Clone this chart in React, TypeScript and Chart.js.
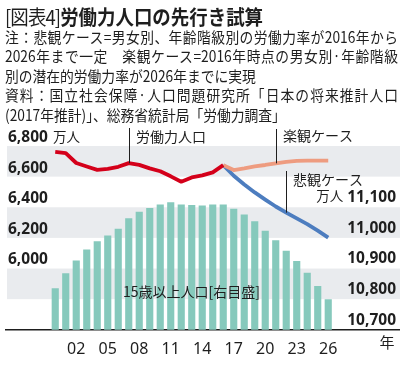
import React, { useEffect, useRef } from 'react';
import { Chart, registerables } from 'chart.js';

Chart.register(...registerables);

// ---------- data ----------
const barYears = [2000, 2001, 2002, 2003, 2004, 2005, 2006, 2007, 2008, 2009, 2010, 2011, 2012, 2013, 2014, 2015, 2016, 2017, 2018, 2019, 2020, 2021, 2022, 2023, 2024, 2025, 2026];
const population15Plus = [10836, 10885, 10926, 10962, 10989, 11008, 11030, 11064, 11085, 11098, 11109, 11116, 11109, 11107, 11106, 11109, 11109, 11095, 11076, 11054, 11023, 10992, 10958, 10925, 10886, 10843, 10800];

const laborYears = [2000, 2001, 2002, 2003, 2004, 2005, 2006, 2007, 2008, 2009, 2010, 2011, 2012, 2013, 2014, 2015, 2016];
const laborForce = [6762, 6754, 6689, 6666, 6644, 6651, 6664, 6688, 6677, 6654, 6635, 6602, 6567, 6595, 6608, 6628, 6675];

const projectionYears = [2016, 2017, 2018, 2019, 2020, 2021, 2022, 2023, 2024, 2025, 2026];
const optimisticCase = [6675, 6643, 6654, 6667, 6676, 6687, 6697, 6703, 6705, 6705, 6705];
const pessimisticCase = [6675, 6606, 6549, 6497, 6450, 6405, 6365, 6327, 6290, 6248, 6202];

const leftTicks = [6000, 6200, 6400, 6600, 6800];
const rightTicks = [10700, 10800, 10900, 11000, 11100];
const bandRanges = [[5800, 6000], [6200, 6400], [6600, 6800]];
const xTickYears = [2002, 2005, 2008, 2011, 2014, 2017, 2020, 2023, 2026];
const xTickLabels = ['02', '05', '08', '11', '14', '17', '20', '23', '26'];
const yearUnit = '年';
const unitLabel = '万人';

const laborLabel = '労働力人口';
const laborLabelYear = 2007;
const optimisticLabel = '楽観ケース';
const optimisticLabelYear = 2021;
const pessimisticLabel = '悲観ケース';
const pessimisticLabelYear = 2022;
const populationLabel = '15歳以上人口[右目盛]';

const titlePrefix = '[図表4]';
const titleMain = '労働力人口の先行き試算';
const noteLines = [
  '注：悲観ケース=男女別、年齢階級別の労働力率が2016年から',
  '2026年まで一定　楽観ケース=2016年時点の男女別·年齢階級',
  '別の潜在的労働力率が2026年までに実現',
  '資料：国立社会保障·人口問題研究所「日本の将来推計人口',
  '(2017年推計)」、総務省統計局「労働力調査」',
];
const noteJustify = [true, true, false, true, false];

// ---------- styles ----------
const COLOR_RED = '#d4001a';
const COLOR_SALMON = '#ee9c80';
const COLOR_BLUE = '#4d7dbf';
const COLOR_BAR = '#86c9bc';
const COLOR_BAND = '#e9ebee';
const COLOR_TEXT = '#1e1e1e';
const JP = '"Noto Sans CJK JP", "Noto Sans", sans-serif';
const LAT = '"Noto Sans", "Liberation Sans", sans-serif';

const fmt = (v: number) => v.toLocaleString('en-US');

const overlayPlugin = {
  id: 'overlay',
  beforeDatasetsDraw(chart: any) {
    const { ctx, chartArea, scales } = chart;
    const yL = scales.yL;
    ctx.save();
    ctx.fillStyle = COLOR_BAND;
    bandRanges.forEach(([lo, hi]) => {
      const top = yL.getPixelForValue(hi);
      const bot = yL.getPixelForValue(lo);
      ctx.fillRect(chartArea.left + 1, top, chartArea.right - chartArea.left, bot - top);
    });
    ctx.restore();
  },
  afterDatasetsDraw(chart: any) {
    const { ctx, chartArea, scales } = chart;
    const x = scales.x;
    const yL = scales.yL;
    const yR = scales.yR;
    ctx.save();
    ctx.fillStyle = COLOR_TEXT;
    ctx.textBaseline = 'middle';

    // left tick labels
    ctx.font = `bold 15.5px ${LAT}`;
    ctx.textAlign = 'left';
    const leftX = chartArea.left + 2;
    leftTicks.forEach((v) => {
      ctx.fillText(fmt(v), leftX, yL.getPixelForValue(v) - 8.5);
    });
    const topLeft = leftTicks[leftTicks.length - 1];
    const wL = ctx.measureText(fmt(topLeft)).width;

    // right tick labels
    ctx.textAlign = 'right';
    const rightX = chartArea.right - 3;
    rightTicks.forEach((v) => {
      ctx.fillText(fmt(v), rightX, yR.getPixelForValue(v) - 9.5);
    });
    const topRight = rightTicks[rightTicks.length - 1];
    const wR = ctx.measureText(fmt(topRight)).width;

    // unit labels
    ctx.font = `13.5px ${JP}`;
    ctx.textAlign = 'left';
    ctx.fillText(unitLabel, leftX + wL + 5, yL.getPixelForValue(topLeft) - 9.5);
    ctx.textAlign = 'right';
    ctx.fillText(unitLabel, rightX - wR - 4, yR.getPixelForValue(topRight) - 11);

    // year unit at the axis end
    ctx.font = `15px ${JP}`;
    ctx.textAlign = 'center';
    ctx.fillText(yearUnit, chartArea.right - 12, chartArea.bottom + 12);

    // leaders + labels
    ctx.strokeStyle = '#1e1e1e';
    ctx.lineWidth = 1;
    ctx.font = `14px ${JP}`;
    ctx.textAlign = 'left';
    const leader = (year: number, value: number, topY: number, text: string, textY: number) => {
      const px = Math.round(x.getPixelForValue(year)) + 0.5;
      const py = yL.getPixelForValue(value);
      ctx.beginPath();
      ctx.moveTo(px, py);
      ctx.lineTo(px, topY);
      ctx.stroke();
      ctx.fillText(text, px + 6.5, textY);
    };
    leader(laborLabelYear, laborForce[laborYears.indexOf(laborLabelYear)], 128, laborLabel, 137);
    leader(optimisticLabelYear, optimisticCase[projectionYears.indexOf(optimisticLabelYear)], 129, optimisticLabel, 136);
    leader(pessimisticLabelYear, pessimisticCase[projectionYears.indexOf(pessimisticLabelYear)], 171, pessimisticLabel, 180);

    // population label
    ctx.fillText(populationLabel, 123, 292);
    ctx.restore();
  },
};

function ChartCanvas() {
  const ref = useRef<HTMLCanvasElement | null>(null);
  useEffect(() => {
    if (!ref.current) return;
    const chart = new Chart(ref.current, {
      type: 'bar',
      data: {
        datasets: [
          {
            type: 'line',
            label: laborLabel,
            data: laborYears.map((y, i) => ({ x: y, y: laborForce[i] })),
            yAxisID: 'yL',
            borderColor: COLOR_RED,
            borderWidth: 3.8,
            pointRadius: 0,
            borderJoinStyle: 'round',
            order: 1,
          } as any,
          {
            type: 'line',
            label: optimisticLabel,
            data: projectionYears.map((y, i) => ({ x: y, y: optimisticCase[i] })),
            yAxisID: 'yL',
            borderColor: COLOR_SALMON,
            borderWidth: 3.8,
            pointRadius: 0,
            borderJoinStyle: 'round',
            order: 2,
          } as any,
          {
            type: 'line',
            label: pessimisticLabel,
            data: projectionYears.map((y, i) => ({ x: y, y: pessimisticCase[i] })),
            yAxisID: 'yL',
            borderColor: COLOR_BLUE,
            borderWidth: 3.8,
            pointRadius: 0,
            borderJoinStyle: 'round',
            order: 3,
          } as any,
          {
            type: 'bar',
            label: populationLabel,
            data: barYears.map((y, i) => ({ x: y, y: population15Plus[i] })),
            yAxisID: 'yR',
            backgroundColor: COLOR_BAR,
            barPercentage: 0.68,
            categoryPercentage: 1,
            order: 10,
          } as any,
        ],
      },
      options: {
        animation: false,
        responsive: false,
        devicePixelRatio: 1,
        layout: { padding: { left: 6, right: 4, top: 146, bottom: 4 } },
        plugins: { legend: { display: false }, tooltip: { enabled: false } },
        scales: {
          x: {
            type: 'linear',
            offset: false,
            min: 1995.31,
            max: 2032.74,
            grid: { display: false },
            border: { display: true, color: '#1e1e1e', width: 1.5 },
            afterBuildTicks: (scale: any) => {
              scale.ticks = xTickYears.map((v) => ({ value: v }));
            },
            ticks: {
              autoSkip: false,
              maxRotation: 0,
              padding: 2,
              color: COLOR_TEXT,
              font: { family: LAT, size: 16 },
              callback: (v: any) => {
                const i = xTickYears.indexOf(Number(v));
                return i >= 0 ? xTickLabels[i] : '';
              },
            },
          },
          yL: {
            type: 'linear',
            position: 'left',
            min: 5600,
            max: 6800,
            display: false,
          },
          yR: {
            type: 'linear',
            position: 'right',
            min: 10700,
            max: 11300,
            display: false,
          },
        },
      } as any,
      plugins: [overlayPlugin],
    });
    return () => chart.destroy();
  }, []);
  return (
    <canvas
      ref={ref}
      width={403}
      height={365}
      style={{ position: 'absolute', left: 0, top: 0, width: 403, height: 365, display: 'block' }}
    />
  );
}

export default function App() {
  const noteCenters = [35.5, 55, 74.5, 94, 113.5];
  const scale = 0.9;
  return (
    <div style={{ position: 'absolute', left: 0, top: 0, width: 403, height: 365, overflow: 'hidden', background: '#fff', color: COLOR_TEXT }}>
      <ChartCanvas />
      <div
        style={{
          position: 'absolute',
          left: 5,
          top: 4,
          lineHeight: '24px',
          fontSize: 20.5,
          fontFamily: JP,
          whiteSpace: 'nowrap',
          transform: `scaleX(${scale})`,
          transformOrigin: '0 0',
        }}
      >
        <span style={{ fontWeight: 400, letterSpacing: -1 }}>{titlePrefix}</span>
        <span style={{ fontWeight: 700 }}>{titleMain}</span>
      </div>
      {noteLines.map((line, i) => (
        <div
          key={i}
          style={{
            position: 'absolute',
            left: 5,
            top: noteCenters[i] - 10,
            width: 393 / scale,
            lineHeight: '20px',
            fontSize: 15.3,
            fontFamily: JP,
            whiteSpace: 'nowrap',
            textAlign: noteJustify[i] ? 'justify' : 'left',
            textAlignLast: noteJustify[i] ? 'justify' : 'left',
            transform: `scaleX(${scale})`,
            transformOrigin: '0 0',
          } as any}
        >
          {line}
        </div>
      ))}
    </div>
  );
}
